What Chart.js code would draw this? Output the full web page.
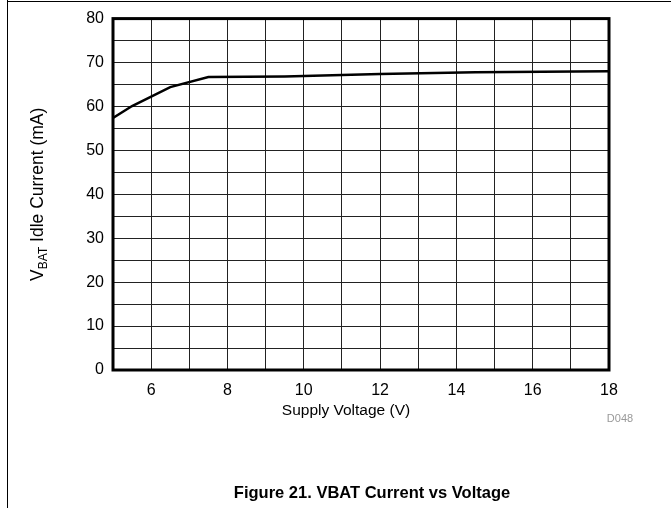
<!DOCTYPE html>
<html>
<head>
<meta charset="utf-8">
<script src="https://cdn.jsdelivr.net/npm/chart.js@4/dist/chart.umd.min.js"></script>
<style>
  html, body { margin: 0; padding: 0; background: #fff; }
  #wrap { width: 671px; height: 508px; }
</style>
</head>
<body>
<div id="wrap"><canvas id="c" width="671" height="508"></canvas></div>
<script>
// Data
const supplyVoltage = [5, 5.5, 6.5, 7.5, 9.5, 12, 14.5, 18];
const idleCurrent   = [57.4, 60.1, 64.4, 66.7, 66.8, 67.4, 67.8, 68.0];
const xTickLabels = [6, 8, 10, 12, 14, 16, 18];
const yTickLabels = [0, 10, 20, 30, 40, 50, 60, 70, 80];
const xTitle = "Supply Voltage (V)";
const yTitleMain = "V";
const yTitleSub = "BAT";
const yTitleRest = " Idle Current (mA)";
const docId = "D048";
const caption = "Figure 21. VBAT Current vs Voltage";

const FONT = "'Liberation Sans', Arial, sans-serif";

const decor = {
  id: 'decor',
  beforeDraw(chart) {
    const ctx = chart.ctx;
    ctx.save();
    ctx.fillStyle = '#fff';
    ctx.fillRect(0, 0, chart.width, chart.height);
    ctx.strokeStyle = '#000';
    ctx.lineWidth = 1;
    ctx.beginPath();
    ctx.moveTo(7.5, 0); ctx.lineTo(7.5, chart.height);
    ctx.moveTo(7, 1.5); ctx.lineTo(chart.width, 1.5);
    ctx.stroke();
    ctx.restore();
  },
  afterDraw(chart) {
    const ctx = chart.ctx;
    const a = chart.chartArea;
    ctx.save();
    // plot frame
    ctx.strokeStyle = '#000';
    ctx.lineWidth = 3;
    ctx.strokeRect(a.left, a.top, a.right - a.left, a.bottom - a.top);

    // y title with subscript
    const cy = (a.top + a.bottom) / 2;
    ctx.translate(37, cy);
    ctx.rotate(-Math.PI / 2);
    ctx.fillStyle = '#000';
    ctx.textBaseline = 'alphabetic';
    ctx.textAlign = 'left';
    const f1 = "17.5px " + FONT, f2 = "12px " + FONT;
    ctx.font = f1; const w1 = ctx.measureText(yTitleMain).width;
    ctx.font = f2; const w2 = ctx.measureText(yTitleSub).width;
    ctx.font = f1; const w3 = ctx.measureText(yTitleRest).width;
    let x0 = -(w1 + w2 + w3) / 2;
    const base = 6;
    ctx.font = f1; ctx.fillText(yTitleMain, x0, base); x0 += w1;
    ctx.font = f2; ctx.fillText(yTitleSub, x0, base + 4); x0 += w2;
    ctx.font = f1; ctx.fillText(yTitleRest, x0, base);
    ctx.restore();

    ctx.save();
    ctx.fillStyle = '#000';
    ctx.textAlign = 'center';
    ctx.textBaseline = 'middle';
    ctx.font = "15.5px " + FONT;
    ctx.fillText(xTitle, (a.left + a.right) / 2 - 15, 411);
    ctx.fillStyle = '#999';
    ctx.font = "11px " + FONT;
    ctx.fillText(docId, 620, 419);
    ctx.fillStyle = '#000';
    ctx.font = "bold 16.5px " + FONT;
    ctx.fillText(caption, 372, 493);
    ctx.restore();
  }
};

new Chart(document.getElementById('c'), {
  type: 'line',
  data: {
    datasets: [{
      data: supplyVoltage.map((v, i) => ({ x: v, y: idleCurrent[i] })),
      borderColor: '#000',
      borderWidth: 2.5,
      pointRadius: 0,
      tension: 0,
      fill: false
    }]
  },
  options: {
    responsive: false,
    animation: false,
    layout: { padding: { left: 0, top: 16, right: 62, bottom: 0 } },
    plugins: { legend: { display: false }, tooltip: { enabled: false } },
    scales: {
      x: {
        type: 'linear',
        min: 5, max: 18,
        afterFit(scale) { scale.height = 138; },
        border: { display: false },
        grid: { color: '#222', lineWidth: 1, drawTicks: false },
        ticks: {
          stepSize: 1,
          padding: 11,
          color: '#000',
          font: { family: FONT, size: 16 },
          maxRotation: 0,
          autoSkip: false,
          callback: (v) => xTickLabels.includes(v) ? String(v) : ''
        }
      },
      y: {
        min: 0, max: 80,
        afterFit(scale) { scale.width = 113; },
        border: { display: false },
        grid: { color: '#222', lineWidth: 1, drawTicks: false },
        ticks: {
          stepSize: 5,
          padding: 9,
          color: '#000',
          font: { family: FONT, size: 16 },
          autoSkip: false,
          callback: (v) => yTickLabels.includes(v) ? String(v) : ''
        }
      }
    }
  },
  plugins: [decor]
});
</script>
</body>
</html>
